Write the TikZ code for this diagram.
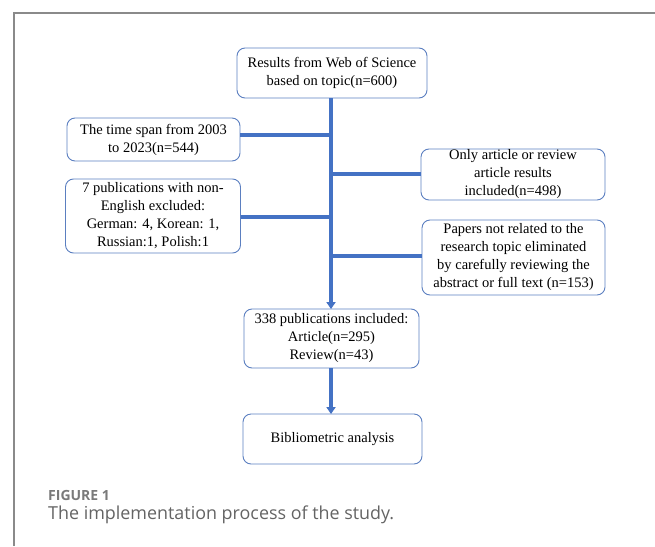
\documentclass[tikz,border=0pt]{standalone}
\usepackage{fontspec}
\setmainfont{Liberation Serif}
\newfontfamily\capfont{Open Sans}
\usetikzlibrary{arrows.meta}
\definecolor{boxblue}{HTML}{5B7FC0}
\definecolor{lineblue}{HTML}{4472C4}
\definecolor{framegray}{HTML}{8A8A8A}
\definecolor{capgray}{HTML}{646464}
\definecolor{labgray}{HTML}{7A7A7A}
\tikzset{
  flowbox/.style={draw=boxblue, line width=0.9pt, rounded corners=8pt, align=center,
    inner sep=0pt, font=\fontsize{14.5}{18}\selectfont, text=black},
  trunk/.style={draw=lineblue, line width=4pt},
  arrowtrunk/.style={trunk, -{Triangle[length=7pt,width=9pt]}, shorten >=-0.5pt}
}
\begin{document}
\begin{tikzpicture}[x=1pt,y=-1pt]
\useasboundingbox (0,0) rectangle (655,546);
% frame
\draw[framegray, line width=1.6pt] (14,546) -- (14,12.8) -- (655,12.8);
% boxes
\node[flowbox, minimum width=190pt, minimum height=50pt] (top) at (332,73) {Results from Web of Science\\based on topic(n=600)};
\node[flowbox, minimum width=173pt, minimum height=43pt] (l1) at (153.5,139.5) {The time span from 2003\\to 2023(n=544)};
\node[flowbox, minimum width=175pt, minimum height=74pt] (l2) at (153,216) {7 publications with non-\\English excluded:\\German: 4, Korean: 1,\\Russian:1, Polish:1};
\node[flowbox, minimum width=184pt, minimum height=51pt] (r1) at (513,174.5) {Only article or review\\article results\\included(n=498)};
\node[flowbox, minimum width=183pt, minimum height=75pt] (r2) at (513.5,257.5) {Papers not related to the\\research topic eliminated\\by carefully reviewing the\\abstract or full text (n=153)};
\node[flowbox, minimum width=175pt, minimum height=59pt] (mid) at (331.5,338.5) {338 publications included:\\Article(n=295)\\Review(n=43)};
\node[flowbox, minimum width=179pt, minimum height=50pt] (bot) at (332.5,439) {Bibliometric analysis};
% trunk
\coordinate (t0) at (331,98);
\coordinate (j1) at (331,135);
\coordinate (j2) at (331,174);
\coordinate (j3) at (331,217);
\coordinate (j4) at (331,256);
\draw[arrowtrunk] (t0) -- (t0 |- mid.north);
\draw[trunk] (j1) -- (j1 -| l1.east);
\draw[trunk] (j2) -- (j2 -| r1.west);
\draw[trunk] (j3) -- (j3 -| l2.east);
\draw[trunk] (j4) -- (j4 -| r2.west);
\draw[arrowtrunk] (mid.south -| t0) -- (bot.north -| t0);
% caption
\node[anchor=base west, inner sep=0pt, text=labgray, font=\capfont\bfseries\fontsize{14}{16}\selectfont] (figlab) at (48,500.5) {FIGURE 1};
\node[anchor=base west, inner sep=0pt, text=capgray, font=\capfont\fontsize{17.9}{21}\selectfont] (captext) at (48,519.5) {The implementation process of the study.};
\end{tikzpicture}
\end{document}
